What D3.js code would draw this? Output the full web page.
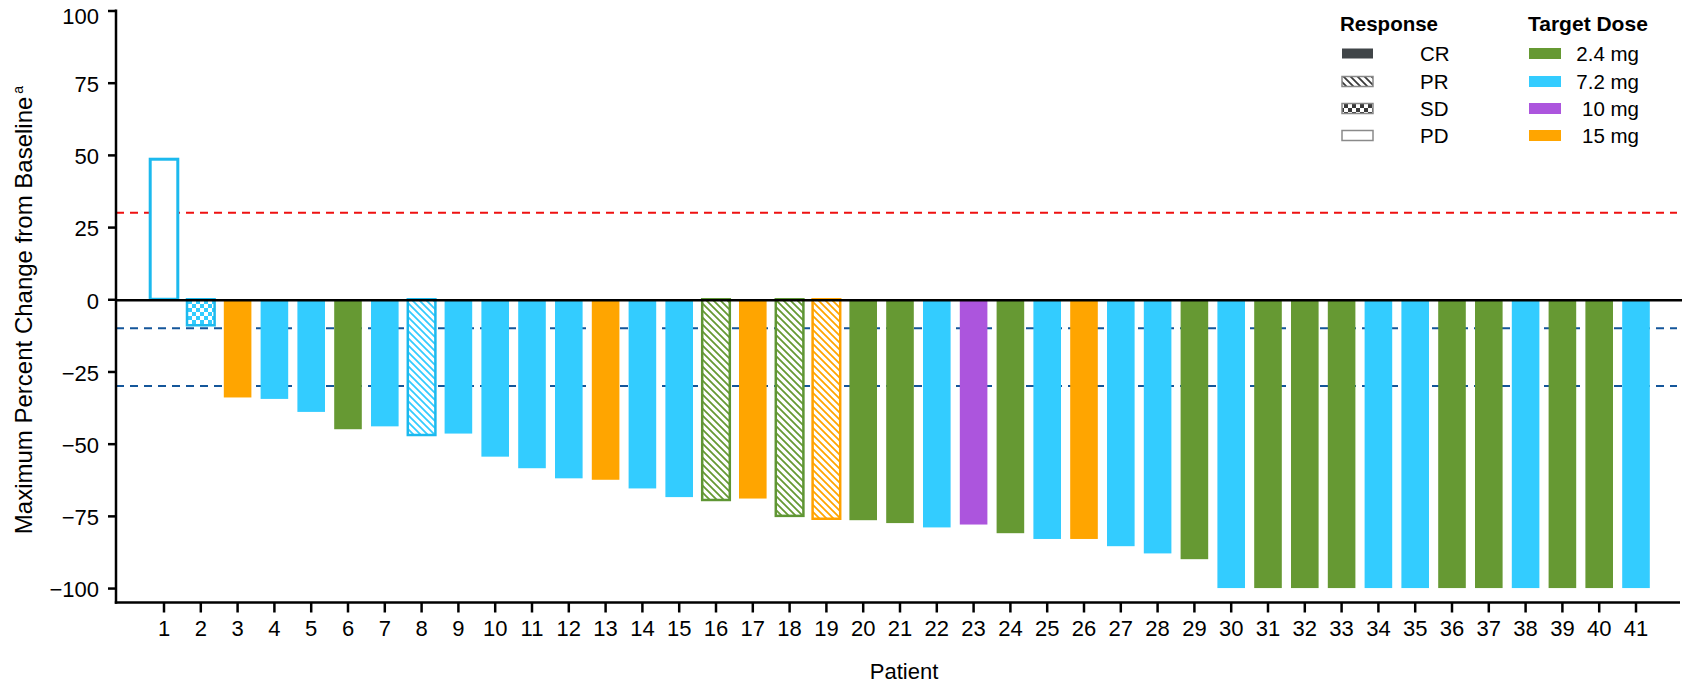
<!DOCTYPE html>
<html>
<head>
<meta charset="utf-8">
<script src="https://cdn.jsdelivr.net/npm/d3@7"></script>
<style>
  body { margin: 0; background: #fff; }
  svg { display: block; }
  text { font-family: "Liberation Sans", Arial, sans-serif; fill: #000; }
</style>
</head>
<body>
<svg id="chart" width="1686" height="683"></svg>
<script>
// Patients, ordered by best response
const patients = ["1","2","3","4","5","6","7","8","9","10","11","12","13","14","15","16","17","18","19","20",
  "21","22","23","24","25","26","27","28","29","30","31","32","33","34","35","36","37","38","39","40","41"];

// Maximum percent change from baseline in target lesions
const changes = [48.5, -9, -34, -34.5, -39, -45, -44, -47, -46.5, -54.5,
  -58.5, -62, -62.5, -65.5, -68.5, -69.5, -69, -75, -76, -76.5,
  -77.5, -79, -78, -81, -83, -83, -85.5, -88, -90, -100,
  -100, -100, -100, -100, -100, -100, -100, -100, -100, -100, -100];

// Target dose per patient
const doses = ["7.2 mg","7.2 mg","15 mg","7.2 mg","7.2 mg","2.4 mg","7.2 mg","7.2 mg","7.2 mg","7.2 mg",
  "7.2 mg","7.2 mg","15 mg","7.2 mg","7.2 mg","2.4 mg","15 mg","2.4 mg","15 mg","2.4 mg",
  "2.4 mg","7.2 mg","10 mg","2.4 mg","7.2 mg","15 mg","7.2 mg","7.2 mg","2.4 mg","7.2 mg",
  "2.4 mg","2.4 mg","2.4 mg","7.2 mg","7.2 mg","2.4 mg","2.4 mg","7.2 mg","2.4 mg","2.4 mg","7.2 mg"];

// Best overall response per patient
const responses = ["PD","SD","CR","CR","CR","CR","CR","PR","CR","CR",
  "CR","CR","CR","CR","CR","PR","CR","PR","PR","CR",
  "CR","CR","CR","CR","CR","CR","CR","CR","CR","CR",
  "CR","CR","CR","CR","CR","CR","CR","CR","CR","CR","CR"];

const responseLabels = ["CR", "PR", "SD", "PD"];
const doseLabels = ["2.4 mg", "7.2 mg", "10 mg", "15 mg"];
const doseColors = ["#669933", "#33ccff", "#ac55dd", "#ffa500"];
const doseStrokes = ["#5f9634", "#1cb9ee", "#9a45cc", "#ffa200"];

const yTicks = [100, 75, 50, 25, 0, -25, -50, -75, -100];
const refValues = [30, -10, -30];
const refColors = ["#ee1111", "#14569a", "#14569a"];

const svg = d3.select("#chart");
const defs = svg.append("defs");

const y = d3.scaleLinear().domain([-105, 100]).range([602.5, 10.5]);
const x = d3.scaleBand().domain(patients).range([145.6, 1654.4]).paddingInner(0.25).paddingOuter(0.125);
const axisLeftX = 116, axisRightX = 1680;

const fillColor = d3.scaleOrdinal().domain(doseLabels).range(doseColors);
const strokeColor = d3.scaleOrdinal().domain(doseLabels).range(doseStrokes);

// Hatch (partial response) and checker (stable disease) patterns
function addHatch(id, color) {
  const p = defs.append("pattern").attr("id", id).attr("patternUnits", "userSpaceOnUse")
    .attr("width", 7).attr("height", 7);
  p.append("rect").attr("width", 7).attr("height", 7).attr("fill", "#fff");
  p.append("path").attr("d", "M-1,-1L8,8M-1,6L1,8M6,-1L8,1")
    .attr("stroke", color).attr("stroke-width", 1.8).attr("fill", "none");
}
function addChecker(id, color) {
  const p = defs.append("pattern").attr("id", id).attr("patternUnits", "userSpaceOnUse")
    .attr("width", 8).attr("height", 8);
  p.append("rect").attr("width", 8).attr("height", 8).attr("fill", "#fff");
  p.append("rect").attr("width", 4).attr("height", 4).attr("fill", color);
  p.append("rect").attr("x", 4).attr("y", 4).attr("width", 4).attr("height", 4).attr("fill", color);
}
doseLabels.forEach((d, i) => {
  addHatch("hatch" + i, doseColors[i]);
  addChecker("check" + i, doseColors[i]);
});
addHatch("hatchLegend", "#3a3a3a");
addChecker("checkLegend", "#3a3a3a");

// Reference lines (progression / response thresholds)
svg.append("g").selectAll("line").data(refValues).join("line")
  .attr("x1", axisLeftX).attr("x2", 1677)
  .attr("y1", d => y(d)).attr("y2", d => y(d))
  .attr("stroke", (d, i) => refColors[i]).attr("stroke-width", 2)
  .attr("stroke-dasharray", "8,6");

// Waterfall bars
const rows = patients.map((p, i) => ({ p, v: changes[i], dose: doses[i], resp: responses[i] }));
function barFill(d) {
  const k = doseLabels.indexOf(d.dose);
  if (d.resp === "PR") return `url(#hatch${k})`;
  if (d.resp === "SD") return `url(#check${k})`;
  if (d.resp === "PD") return "#fff";
  return fillColor(d.dose);
}
svg.append("g").selectAll("rect").data(rows).join("rect")
  .attr("x", d => x(d.p))
  .attr("width", x.bandwidth())
  .attr("y", d => y(Math.max(0, d.v)))
  .attr("height", d => Math.abs(y(d.v) - y(0)))
  .attr("fill", barFill)
  .attr("stroke", d => d.resp === "CR" ? "none" : strokeColor(d.dose))
  .attr("stroke-width", d => d.resp === "PD" ? 3 : 2.5);

// Zero line
svg.append("line")
  .attr("x1", axisLeftX).attr("x2", 1682)
  .attr("y1", y(0) + 1).attr("y2", y(0) + 1)
  .attr("stroke", "#000").attr("stroke-width", 2.5);

// Y axis
const gy = svg.append("g").attr("transform", `translate(${axisLeftX},0)`)
  .call(d3.axisLeft(y).tickValues(yTicks).tickSize(8).tickPadding(9).tickFormat(d3.format("d")));
gy.select(".domain").remove();
gy.selectAll(".tick line").attr("stroke", "#000").attr("stroke-width", 2.5);
gy.selectAll(".tick text").style("font-size", "22px").attr("font-family", null)
  .attr("dy", d => d === 100 ? "0.6em" : "0.4em");
svg.append("line").attr("x1", axisLeftX).attr("x2", axisLeftX)
  .attr("y1", y(100) - 1).attr("y2", y(-105) + 1.2)
  .attr("stroke", "#000").attr("stroke-width", 2.5);

// X axis
const gx = svg.append("g").attr("transform", `translate(0,${y(-105)})`)
  .call(d3.axisBottom(x).tickSize(10).tickPadding(8));
gx.select(".domain").remove();
gx.selectAll(".tick line").attr("stroke", "#000").attr("stroke-width", 2.5);
gx.selectAll(".tick text").style("font-size", "22px").attr("font-family", null);
svg.append("line").attr("x1", axisLeftX - 1.2).attr("x2", axisRightX)
  .attr("y1", y(-105)).attr("y2", y(-105))
  .attr("stroke", "#000").attr("stroke-width", 2.5);

// Axis titles
svg.append("text").attr("x", 904).attr("y", 679).attr("text-anchor", "middle")
  .style("font-size", "22px").text("Patient");
const yl = svg.append("text").attr("transform", "translate(32,310) rotate(-90)")
  .attr("text-anchor", "middle").style("font-size", "24px");
yl.append("tspan").text("Maximum Percent Change from Baseline");
yl.append("tspan").attr("dx", 3).attr("dy", -9).style("font-size", "14px").text("a");

// Legend: response type
const rowY = [48, 76, 103, 130];
const legend = svg.append("g");
legend.append("text").attr("x", 1340).attr("y", 31).style("font-size", "20.5px")
  .style("font-weight", "bold").text("Response");
const respFill = { CR: "#404548", PR: "url(#hatchLegend)", SD: "url(#checkLegend)", PD: "#fff" };
const respStroke = { CR: "none", PR: "#888", SD: "#888", PD: "#8a8a8a" };
legend.selectAll(".resp").data(responseLabels).join("rect").attr("class", "resp")
  .attr("x", 1342).attr("y", (d, i) => rowY[i] + 0.5).attr("width", 31).attr("height", 10)
  .attr("fill", d => respFill[d]).attr("stroke", d => respStroke[d]).attr("stroke-width", 1.5);
legend.selectAll(".respText").data(responseLabels).join("text").attr("class", "respText")
  .attr("x", 1420).attr("y", (d, i) => rowY[i] + 13).style("font-size", "20.5px").text(d => d);

// Legend: target dose
legend.append("text").attr("x", 1528).attr("y", 31).style("font-size", "21px")
  .style("font-weight", "bold").text("Target Dose");
legend.selectAll(".dose").data(doseLabels).join("rect").attr("class", "dose")
  .attr("x", 1529).attr("y", (d, i) => rowY[i]).attr("width", 32).attr("height", 11)
  .attr("fill", d => fillColor(d));
legend.selectAll(".doseText").data(doseLabels).join("text").attr("class", "doseText")
  .attr("x", 1639).attr("y", (d, i) => rowY[i] + 13).attr("text-anchor", "end")
  .style("font-size", "20.5px").text(d => d);
</script>
</body>
</html>
